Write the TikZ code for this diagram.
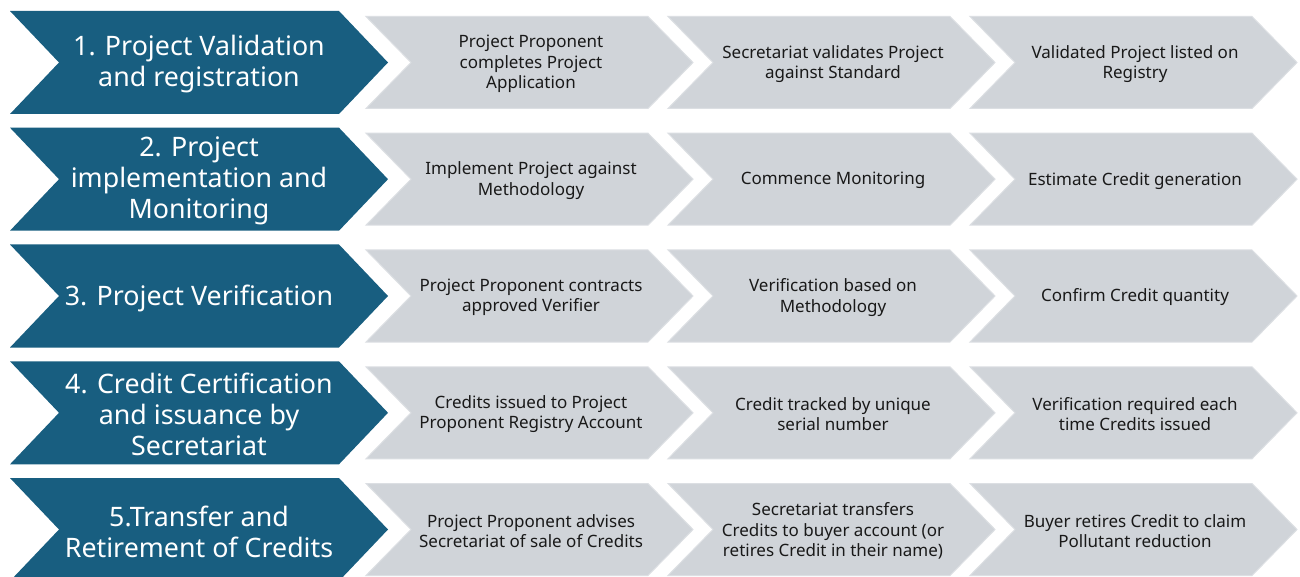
\documentclass[tikz,border=0pt]{standalone}
\usepackage{fontspec}
\setmainfont{Noto Sans}
\definecolor{stepblue}{RGB}{24,94,128}
\definecolor{stepgray}{RGB}{208,212,217}
\definecolor{stepedge}{RGB}{220,223,227}
\definecolor{steptext}{RGB}{25,25,25}
\newcommand\chevpath[6]{% x0, yc, width, halfheight, depth, style
  \path[#6] (#1,#2-#4) -- ({#1+#3-#5},#2-#4) -- ({#1+#3},#2) -- ({#1+#3-#5},#2+#4) -- (#1,#2+#4) -- ({#1+#5},#2) -- cycle;}
\begin{document}
\begin{tikzpicture}[x=1pt,y=-1pt,
  bluechev/.style={fill=stepblue},
  graychev/.style={fill=stepgray,draw=stepedge,line width=1pt,line join=miter},
  bluetext/.style={text=white,align=center,font=\fontsize{26.8}{31}\selectfont,inner sep=0pt,yshift=-2pt},
  graytext/.style={text=steptext,align=center,font=\fontsize{17}{20.5}\selectfont,inner sep=0pt,yshift=-1.5pt}]
\useasboundingbox (0,0) rectangle (1300,577);
\fill[white] (0,0) rectangle (1300,577);
\foreach \yc in {62.5,179.2,296,412.8,529.5}{
  \chevpath{10}{\yc}{378}{51.5}{49}{bluechev}
  \chevpath{366}{\yc}{327}{46}{45}{graychev}
  \chevpath{668}{\yc}{327}{46}{45}{graychev}
  \chevpath{970}{\yc}{327}{46}{45}{graychev}
}
% row 1
\node[bluetext] (b1) at (199,62.5) {1. Project Validation\\and registration};
\node[graytext] (g11) at (531,62.5) {Project Proponent\\completes Project\\Application};
\node[graytext] (g12) at (833,62.5) {Secretariat validates Project\\against Standard};
\node[graytext] (g13) at (1135,62.5) {Validated Project listed on\\Registry};
% row 2
\node[bluetext] (b2) at (199,179.2) {2. Project\\implementation and\\Monitoring};
\node[graytext] (g21) at (531,179.2) {Implement Project against\\Methodology};
\node[graytext] (g22) at (833,179.2) {Commence Monitoring};
\node[graytext] (g23) at (1135,179.2) {Estimate Credit generation};
% row 3
\node[bluetext] (b3) at (199,296) {3. Project Verification};
\node[graytext] (g31) at (531,296) {Project Proponent contracts\\approved Verifier};
\node[graytext] (g32) at (833,296) {Verification based on\\Methodology};
\node[graytext] (g33) at (1135,296) {Confirm Credit quantity};
% row 4
\node[bluetext] (b4) at (199,412.8) {4. Credit Certification\\and issuance by\\Secretariat};
\node[graytext] (g41) at (531,412.8) {Credits issued to Project\\Proponent Registry Account};
\node[graytext] (g42) at (833,412.8) {Credit tracked by unique\\serial number};
\node[graytext] (g43) at (1135,412.8) {Verification required each\\time Credits issued};
% row 5
\node[bluetext] (b5) at (199,529.5) {5.Transfer and\\Retirement of Credits};
\node[graytext] (g51) at (531,529.5) {Project Proponent advises\\Secretariat of sale of Credits};
\node[graytext] (g52) at (833,529.5) {Secretariat transfers\\Credits to buyer account (or\\retires Credit in their name)};
\node[graytext] (g53) at (1135,529.5) {Buyer retires Credit to claim\\Pollutant reduction};
\end{tikzpicture}
\end{document}
